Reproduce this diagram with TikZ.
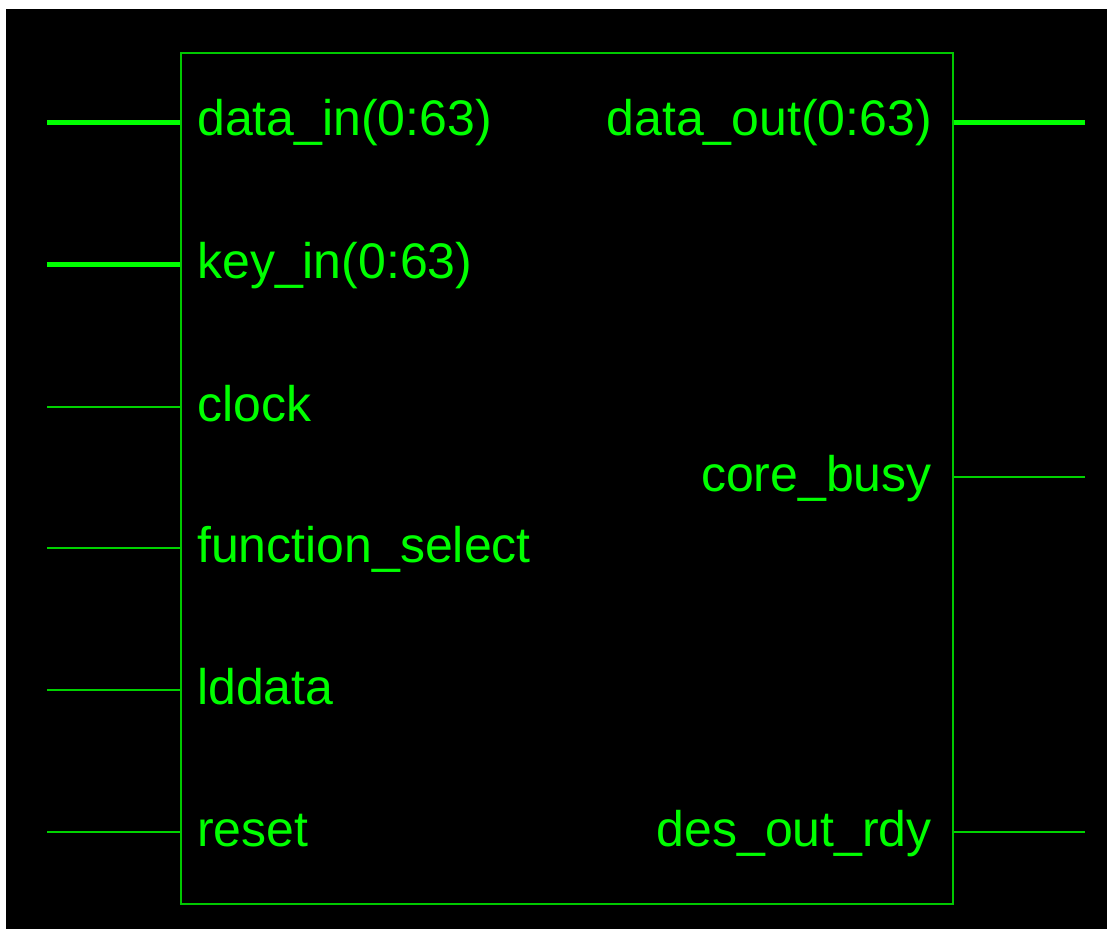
\documentclass[tikz,border=0pt]{standalone}
\usepackage{fontspec}
\setmainfont{Liberation Sans}
\definecolor{txtgreen}{RGB}{0,255,0}
\definecolor{wiregreen}{RGB}{0,210,0}
\definecolor{boxgreen}{RGB}{0,200,0}

\begin{document}
\begin{tikzpicture}[x=1pt,y=-1pt,
    sigline/.style={draw=wiregreen,line width=1.5pt},
    busline/.style={draw=txtgreen,line width=5pt},
    portname/.style={text=txtgreen,inner sep=0pt,font=\fontsize{50}{60}\selectfont}]
	    % page and black field
	    \useasboundingbox (0,0) rectangle (1107,929);
	    \fill [white] (0,0) rectangle (1107,929);
	    \fill [black] (6,9) rectangle (1107,929);
	    % the block
	    \node [draw=boxgreen,line width=1.5pt,inner sep=0pt,anchor=north west,
	           minimum width=772pt,minimum height=851pt] (core) at (180,52) {};
	    % inputs
	    \coordinate (din) at (47,122);
	    \coordinate (kin) at (47,264);
	    \coordinate (clk) at (47,407);
	    \coordinate (fsel) at (47,548);
	    \coordinate (ld) at (47,690);
	    \coordinate (rst) at (47,832);
	    \draw [busline] (din) -- (din -| core.west);
	    \draw [busline] (kin) -- (kin -| core.west);
	    \draw [sigline] (clk) -- (clk -| core.west);
	    \draw [sigline] (fsel) -- (fsel -| core.west);
	    \draw [sigline] (ld) -- (ld -| core.west);
	    \draw [sigline] (rst) -- (rst -| core.west);
	    \node [portname,anchor=base west] (tdin) at (197,135) {data\_in(0:63)};
	    \node [portname,anchor=base west] (tkin) at (197,278) {key\_in(0:63)};
	    \node [portname,anchor=base west] (tclk) at (197,421) {clock};
	    \node [portname,anchor=base west] (tfsel) at (197,562) {function\_select};
	    \node [portname,anchor=base west] (tld) at (197,704) {lddata};
	    \node [portname,anchor=base west] (trst) at (197,846) {reset};
	    % outputs
	    \coordinate (dout) at (1085,122);
	    \coordinate (busy) at (1085,477);
	    \coordinate (rdy) at (1085,832);
	    \draw [busline] (dout) -- (dout -| core.east);
	    \draw [sigline] (busy) -- (busy -| core.east);
	    \draw [sigline] (rdy) -- (rdy -| core.east);
	    \node [portname,anchor=base east] (tdout) at (932,135) {data\_out(0:63)};
	    \node [portname,anchor=base east] (tbusy) at (932,491) {core\_busy};
	    \node [portname,anchor=base east] (trdy) at (932,846) {des\_out\_rdy};
\end{tikzpicture}
\end{document}
